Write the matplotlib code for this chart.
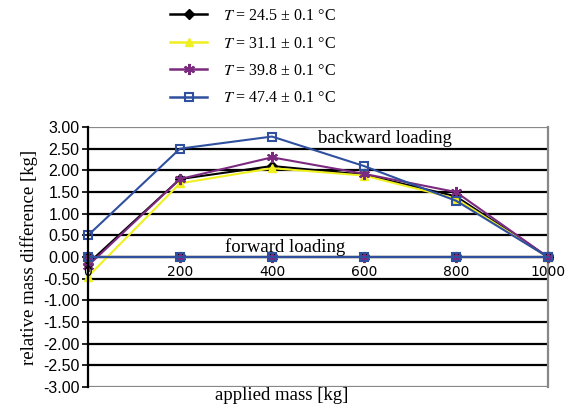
import matplotlib.pyplot as plt
from matplotlib.lines import Line2D

mass = [0, 200, 400, 600, 800, 1000]

# backward loading, relative mass difference [kg]
back_245 = [-0.15, 1.80, 2.10, 1.90, 1.40, 0.0]
back_311 = [-0.45, 1.70, 2.05, 1.88, 1.35, 0.0]
back_398 = [-0.20, 1.80, 2.30, 1.92, 1.50, 0.0]
back_474 = [0.50, 2.50, 2.78, 2.10, 1.30, 0.0]

# forward loading
fwd_245 = [0.0, 0.0, 0.0, 0.0, 0.0, 0.0]
fwd_311 = [0.0, 0.0, 0.0, 0.0, 0.0, 0.0]
fwd_398 = [0.0, 0.0, 0.0, 0.0, 0.0, 0.0]
fwd_474 = [0.0, 0.0, 0.0, 0.0, 0.0, 0.0]

labels = [r'$T$ = 24.5 ± 0.1 °C', r'$T$ = 31.1 ± 0.1 °C',
          r'$T$ = 39.8 ± 0.1 °C', r'$T$ = 47.4 ± 0.1 °C']
yticks = [-3.0, -2.5, -2.0, -1.5, -1.0, -0.5, 0.0, 0.5, 1.0, 1.5, 2.0, 2.5, 3.0]

plt.rcParams['mathtext.fontset'] = 'stix'
serif = 'Liberation Serif'
sans = 'Liberation Sans'

styles = [
    dict(color='black', marker='D', ms=5, mfc='black', mec='black'),
    dict(color='#f0f020', marker='^', ms=6, mfc='#f0f020', mec='#f0f020'),
    dict(color='#7b2a7f', marker=(6, 2, 0), ms=8, mfc='none', mec='#7b2a7f', mew=1.5),
    dict(color='#2f4f9f', marker='s', ms=6, mfc='none', mec='#2f4f9f', mew=1.5),
]

fig = plt.figure(figsize=(5.75, 4.11), dpi=100)
ax = fig.add_axes([0.153, 0.058, 0.8, 0.633])

for y in yticks[1:-1]:
    ax.axhline(y, color='black', lw=1.6, zorder=1)
ax.axhline(3.0, color='#888888', lw=1.6, zorder=1)
ax.axhline(-3.0, color='#888888', lw=1.6, zorder=1)

backs = [back_245, back_311, back_398, back_474]
fwds = [fwd_245, fwd_311, fwd_398, fwd_474]
for b, st in zip(backs, styles):
    ax.plot(mass, b, lw=1.5, zorder=3, clip_on=False, **st)
for f, st in zip(fwds, styles):
    ax.plot(mass, f, lw=1.5, zorder=3, clip_on=False, **st)

ax.set_xlim(0, 1000)
ax.set_ylim(-3, 3)
ax.set_yticks(yticks)
ax.set_yticklabels(['%.2f' % v for v in yticks], fontfamily=sans, fontsize=11.5)
ax.set_xticks(mass)
ax.set_xticklabels([str(m) for m in mass], fontfamily=sans, fontsize=11.5)
ax.tick_params(axis='y', length=4, width=1.2, color='black', pad=2)
ax.tick_params(axis='x', length=0, pad=6)
ax.xaxis.set_zorder(5)

ax.spines['bottom'].set_position(('data', 0))
ax.spines['bottom'].set_visible(False)
ax.spines['top'].set_visible(False)
ax.spines['right'].set_color('#888888')
ax.spines['right'].set_linewidth(1.6)
ax.spines['left'].set_color('black')
ax.spines['left'].set_linewidth(1.6)
ax.spines['left'].set_zorder(4)

ax.text(500, 2.62, 'backward loading', fontfamily=serif, fontsize=13.5)
ax.text(298, 0.12, 'forward loading', fontfamily=serif, fontsize=13.5)

ax.set_ylabel('relative mass difference [kg]', fontfamily=serif, fontsize=13.5, labelpad=4)
fig.text(282 / 575, 1 - 395 / 411, 'applied mass [kg]', fontfamily=serif, fontsize=13.5,
         ha='center', va='center')

handles = [Line2D([], [], lw=1.8, **st) for st in styles]
fig.legend(handles, labels, loc='upper left', bbox_to_anchor=(0.296, 1 - 8 / 411),
           frameon=False, prop={'family': serif, 'size': 11.5}, borderpad=0,
           borderaxespad=0, handlelength=2.3, labelspacing=0.72, handletextpad=1.0)

fig.savefig('out.png', dpi=100)
